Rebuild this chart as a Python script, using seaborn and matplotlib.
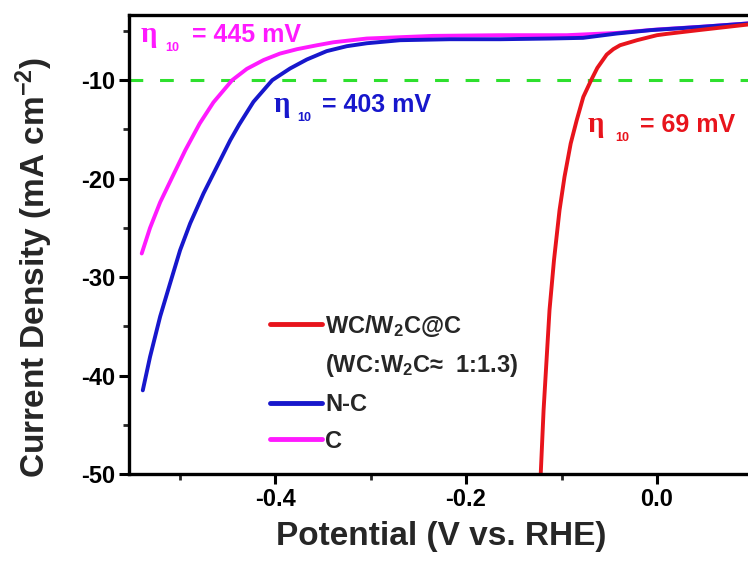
import matplotlib
matplotlib.use("Agg")
import matplotlib.pyplot as plt
from matplotlib.lines import Line2D
from matplotlib.ticker import MultipleLocator
import seaborn as sns
import pandas as pd

# Polarization curves (potential in V vs. RHE, current density in mA cm^-2)
wc_potential = [-0.1218, -0.1188, -0.1126, -0.1079, -0.1021, -0.0969, -0.0904, -0.0841,
                -0.0772, -0.069, -0.0625, -0.0527, -0.0458, -0.0387, -0.021, 0.0,
                0.010, 0.045, 0.094, 0.100]
wc_current = [-50.0, -43.5, -33.35, -28.27, -23.2, -19.82, -16.43, -14.06,
              -11.7, -10.0, -8.75, -7.4, -6.85, -6.45, -5.94, -5.43,
              -5.3, -4.9, -4.36, -4.3]

nc_potential = [-0.5386, -0.531, -0.5204, -0.5099, -0.4995, -0.489, -0.475, -0.461,
                -0.447, -0.4376, -0.4227, -0.403, -0.3843, -0.3668, -0.346, -0.325,
                -0.304, -0.269, -0.217, -0.164, -0.112, -0.0775, -0.042, -0.007,
                0.045, 0.094, 0.100]
nc_current = [-41.5, -38.1, -34.0, -30.6, -27.26, -24.55, -21.5, -18.8,
              -16.1, -14.5, -12.2, -10.0, -8.81, -7.9, -7.05, -6.55,
              -6.25, -5.94, -5.84, -5.84, -5.77, -5.7, -5.26, -4.92,
              -4.59, -4.25, -4.2]

c_potential = [-0.5397, -0.531, -0.5204, -0.5065, -0.494, -0.479, -0.4646, -0.445,
               -0.4296, -0.412, -0.395, -0.377, -0.356, -0.339, -0.304, -0.2345,
               -0.164, -0.0945, -0.042, 0.0, 0.050, 0.100]
c_current = [-27.6, -25.0, -22.4, -19.6, -17.1, -14.4, -12.25, -10.0,
             -8.85, -7.95, -7.3, -6.85, -6.45, -6.15, -5.77, -5.5,
             -5.43, -5.43, -5.2, -4.85, -4.55, -4.2]

series_names = ["WC/W$_2$C@C", "N-C", "C"]
series_colors = ["#e8141c", "#1717cc", "#ff1aff"]
ratio_note = "(WC:W$_2$C\u2248  1:1.3)"

overpotentials = [69, 403, 445]
target_current = -10

x_ticks = [-0.4, -0.2, 0.0]
y_ticks = [-10, -20, -30, -40, -50]

sns.set_style("ticks")
plt.rcParams["font.family"] = ["Liberation Sans", "DejaVu Sans"]
plt.rcParams["font.weight"] = "bold"
plt.rcParams["mathtext.fontset"] = "custom"
plt.rcParams["mathtext.rm"] = "Liberation Sans:bold"
plt.rcParams["mathtext.bf"] = "Liberation Sans:bold"
plt.rcParams["mathtext.it"] = "Liberation Sans:bold"
plt.rcParams["mathtext.default"] = "bf"

fig = plt.figure(figsize=(7.48, 5.63), dpi=100)
ax = fig.add_axes([0.1725, 0.158, 1.006 - 0.1725, 0.973 - 0.158])

frames = {
    "C": pd.DataFrame({"potential": c_potential, "current": c_current}),
    "N-C": pd.DataFrame({"potential": nc_potential, "current": nc_current}),
    "WC": pd.DataFrame({"potential": wc_potential, "current": wc_current}),
}

lw = 2.8
for key, color in [("C", series_colors[2]), ("N-C", series_colors[1]),
                   ("WC", series_colors[0])]:
    sns.lineplot(data=frames[key], x="potential", y="current", sort=False,
                 color=color, lw=lw, ax=ax)

ax.axhline(target_current, color="#2ee02e", lw=2.2, ls=(0, (4.5, 5.5)), zorder=1)

ax.set_xlim(-0.553, 0.1)
ax.set_ylim(-50, -3.4)
ax.set_xticks(x_ticks)
ax.set_yticks(y_ticks)
ax.xaxis.set_minor_locator(MultipleLocator(0.1))
ax.yaxis.set_minor_locator(MultipleLocator(5))
ax.set_xticklabels(["%.1f" % t for t in x_ticks])
ax.set_yticklabels(["%d" % t for t in y_ticks])
ax.tick_params(which="major", direction="out", length=7, width=2.2,
               labelsize=17, pad=3, colors="black")
ax.tick_params(which="minor", direction="out", length=4, width=2.0)
for side in ["left", "bottom", "top", "right"]:
    ax.spines[side].set_linewidth(2.4)
    ax.spines[side].set_color("black")

ax.set_xlabel("Potential (V vs. RHE)", fontsize=24, fontweight="bold", labelpad=7)
ax.set_ylabel("Current Density (mA cm$^{-2}$)", fontsize=24, fontweight="bold")
ax.yaxis.set_label_coords(-0.118, 0.45)

# Overpotential at -10 mA cm^-2 for each catalyst: eta, subscript 10, value
ann_fs = 18
label_spots = [(-0.5414, -6.14, 25, 52, 2), (-0.4021, -13.25, 24, 49, 1),
               (-0.0723, -15.3, 27, 52, 0)]
for x0, y0, sub_dx, val_dx, idx in label_spots:
    col = series_colors[idx]
    ax.text(x0, y0, "\u03b7", color=col, fontsize=21, family="Liberation Serif",
            fontweight="bold", va="baseline")
    ax.annotate("10", (x0, y0), xytext=(sub_dx * 0.72, -9 * 0.72),
                textcoords="offset points", color=col, fontsize=9,
                fontweight="bold", va="baseline")
    ax.annotate("= %d mV" % overpotentials[idx], (x0, y0),
                xytext=(val_dx * 0.72, 0), textcoords="offset points",
                color=col, fontsize=ann_fs, fontweight="bold", va="baseline")

handles = [Line2D([], [], color=series_colors[0], lw=3.5),
           Line2D([], [], color="none", lw=3.5),
           Line2D([], [], color=series_colors[1], lw=3.5),
           Line2D([], [], color=series_colors[2], lw=3.5)]
labels = [series_names[0], ratio_note, series_names[1], series_names[2]]
ax.legend(handles, labels, loc="upper left", bbox_to_anchor=(0.226, 0.352),
          frameon=False, fontsize=17, handlelength=2.2, handletextpad=0.15,
          labelspacing=0.58, borderaxespad=0, borderpad=0)

ax.set_facecolor("white")
fig.patch.set_facecolor("white")
fig.savefig("out.png", dpi=100)
